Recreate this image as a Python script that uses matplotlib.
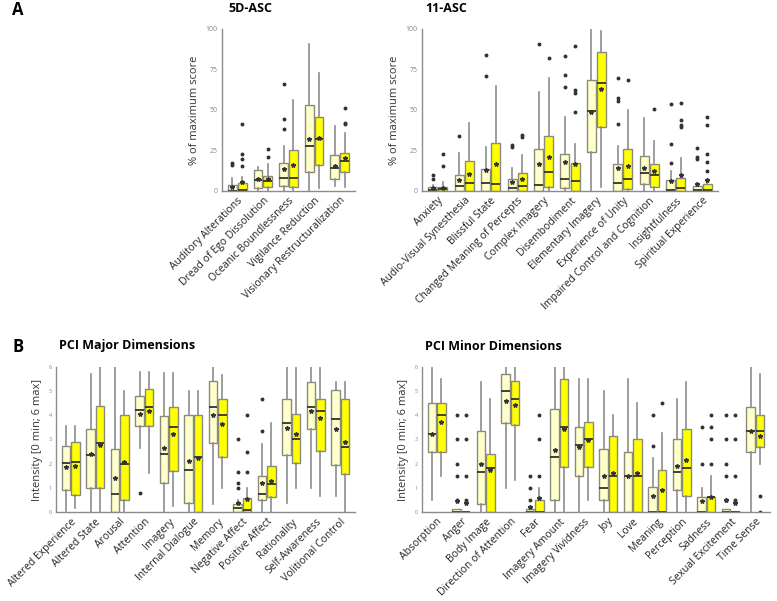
import matplotlib
matplotlib.use('Agg')
import matplotlib.pyplot as plt
import numpy as np

plt.rcParams['font.family'] = ['Open Sans', 'DejaVu Sans']

# each row: (whislo, q1, median, q3, whishi, mean)
asc5_labels = ['Auditory Alterations', 'Dread of Ego Dissolution', 'Oceanic Boundlessness',
               'Vigilance Reduction', 'Visionary Restructuralization']
asc5_pale = [(0, 0, 0, 3.7, 7.8, 2.7), (0, 1.6, 6.8, 12.8, 15, 7.4), (0, 3.3, 8, 17, 27.8, 13.6),
             (0, 11.5, 27.6, 52.9, 90.5, 32.3), (3.3, 7.6, 14, 22, 40.3, 15.6)]
asc5_pale_fliers = [[17, 16], [], [66, 44.4, 38.3], [], []]
asc5_yellow = [(0, 0, 0.6, 4.7, 8.6, 5.3), (0, 2.3, 6, 9, 16.5, 7.4), (0, 2.3, 7.8, 25, 56, 15.8),
               (1.6, 16.3, 31.9, 45.9, 72.8, 32.7), (2.7, 12, 18.7, 23.7, 35.6, 20.6)]
asc5_yellow_fliers = [[41.6, 23, 19.8, 15.6], [25.7, 21], [], [], [51.2, 42.2, 41.4]]

asc11_labels = ['Anxiety', 'Audio-Visual Synesthesia', 'Blissful State', 'Changed Meaning of Percepts',
                'Complex Imagery', 'Disembodiment', 'Elementary Imagery', 'Experience of Unity',
                'Impaired Control and Cognition', 'Insightfulness', 'Spiritual Experience']
asc11_pale = [(0, 0, 0.6, 2.3, 4, 1.6), (0, 0, 3, 9.9, 23.7, 6.6), (0, 0, 4.9, 13.4, 27, 12.8),
              (0, 0, 1.6, 7.6, 14.2, 5.6), (0, 0, 3.5, 26.1, 61, 16.9), (0, 2.1, 7.2, 22.8, 45.5, 18.1),
              (0, 23.9, 49.6, 68.3, 100, 48.6), (0, 0, 4.7, 16.5, 27.8, 14.4), (0, 4.1, 11.1, 21.4, 44.9, 14),
              (0, 0, 0.4, 7, 12.1, 6), (0, 0, 0.8, 3.3, 4.7, 4.1)]
asc11_pale_fliers = [[7.2, 9.9], [34], [71.2, 84.2], [28.4, 27.4], [90.5], [83.1, 71.4, 64.2], [],
                     [69.8, 57.2, 55.6, 41.4], [], [53.5, 28.8, 17.1], [26.3, 20.8, 19.8]]
asc11_yellow = [(0, 0, 1, 2.7, 5.3, 2), (0, 0, 4.7, 18.5, 41.8, 10.3), (0, 0, 4.3, 29.4, 64.6, 16.7),
                (0, 0, 2.9, 11.1, 22, 7.6), (0, 2.3, 11.5, 34.2, 69.5, 21), (0, 0, 6.2, 17.5, 29.2, 16.7),
                (2.7, 39.3, 66.5, 86, 99, 63.2), (0, 1, 7.2, 25.7, 50.2, 15.6), (0, 2.7, 9.7, 16.5, 31.1, 12.3),
                (0, 0, 1.6, 8.2, 20.6, 9.7), (0, 0, 0.4, 4.1, 5, 6.6)]
asc11_yellow_fliers = [[15.2, 22.6], [], [], [34.4, 33.3], [82.1], [89.7, 62.6, 60.5, 48.8], [],
                       [68.3], [50.8], [54.5, 43.8, 40.7, 39.7], [45.9, 40.5, 22.6, 18.1, 12.1, 6.6]]

major_labels = ['Altered Experience', 'Altered State', 'Arousal', 'Attention', 'Imagery',
                'Internal Dialogue', 'Memory', 'Negative Affect', 'Positive Affect', 'Rationality',
                'Self-Awareness', 'Volitional Control']
major_pale = [(0.07, 0.9, 2.04, 2.72, 3.54, 1.88), (0, 0.99, 2.35, 3.42, 5.68, 2.41),
              (0, 0, 0.74, 2.62, 6, 1.4), (2.63, 3.56, 4.2, 4.8, 5.8, 4.05),
              (0, 1.19, 2.4, 3.95, 5.75, 2.63), (0, 0.38, 1.76, 4.0, 5.0, 2.1),
              (0.34, 2.84, 4.33, 5.43, 6, 4.02), (0, 0, 0.16, 0.33, 0.5, 0.38),
              (0, 0.51, 0.75, 1.51, 2.83, 1.21), (0.37, 2.35, 3.68, 4.68, 6, 3.47),
              (0.99, 3.42, 4.33, 5.36, 6, 4.17), (0.69, 1.93, 3.83, 5.02, 5.36, 3.44)]
major_pale_fliers = [[], [], [], [0.81], [], [], [], [3.0, 1.66, 1.19, 0.99], [3.33, 4.68], [], [], []]
major_yellow = [(0.16, 0.73, 2.08, 2.9, 3.54, 1.9), (0, 0.99, 2.84, 4.4, 6, 2.76),
                (0, 0.51, 2.0, 4.0, 5.0, 2.06), (1.6, 3.56, 4.32, 5.07, 5.8, 4.17),
                (0.25, 1.7, 3.5, 4.32, 5.75, 3.22), (0, 0, 2.26, 4.0, 5.0, 2.22),
                (0.99, 2.26, 4.0, 4.66, 5.65, 3.62), (0, 0, 0.1, 0.59, 0.99, 0.55),
                (0, 0.63, 1.18, 1.92, 3.68, 1.28), (0.99, 2.02, 3.02, 4.07, 6, 3.21),
                (0.69, 2.54, 4.17, 4.66, 6, 3.9), (0, 1.59, 2.69, 4.66, 5.36, 2.89)]
major_yellow_fliers = [[], [], [], [], [], [], [], [4.0, 2.5, 1.66], [], [], [], []]

minor_labels = ['Absorption', 'Anger', 'Body Image', 'Direction of Attention', 'Fear', 'Imagery Amount',
                'Imagery Vividness', 'Joy', 'Love', 'Meaning', 'Perception', 'Sadness',
                'Sexual Excitement', 'Time Sense']
minor_pale = [(0.5, 2.5, 3.24, 4.51, 6, 3.24), (0, 0, 0, 0.12, 0.12, 0.45), (0, 0.33, 1.66, 3.35, 5.35, 1.99),
              (1.0, 3.66, 5.0, 5.69, 6, 4.6), (0, 0, 0, 0.12, 0.12, 0.2), (0, 0.49, 2.26, 4.25, 6, 2.56),
              (0, 1.5, 2.76, 3.5, 5.5, 2.67), (0, 0.49, 1.0, 2.62, 5.0, 1.51), (0, 0, 1.51, 2.5, 5.5, 1.51),
              (0, 0, 0, 1.06, 2.25, 0.67), (0, 0.9, 1.66, 3.0, 4.66, 1.91), (0, 0, 0, 0.62, 0.99, 0.47),
              (0, 0, 0, 0.12, 0.12, 0.5), (0, 2.5, 3.35, 4.33, 6, 3.35)]
minor_pale_fliers = [[], [4, 3, 2, 1.5, 0.5], [], [], [1.5, 1.0, 0.5], [], [], [], [],
                     [2.75, 4.0], [], [3.5, 2.0], [4, 3, 2, 1.5, 0.5], []]
minor_yellow = [(1.5, 2.5, 4.0, 4.51, 5.5, 3.74), (0, 0, 0, 0, 0, 0.38), (0, 0, 1.84, 2.41, 4.66, 1.74),
                (1.33, 3.58, 4.68, 5.43, 6, 4.43), (0, 0, 0, 0.49, 0.99, 0.6), (0, 1.87, 3.5, 5.5, 6, 3.44),
                (0.49, 1.87, 3.02, 3.74, 5.5, 2.98), (0, 0, 1.51, 3.13, 4.0, 1.63), (0, 0, 1.5, 3.0, 4.5, 1.63),
                (0, 0, 0, 1.74, 3.25, 0.92), (0, 0.66, 1.84, 3.43, 5.35, 2.15), (0, 0, 0.62, 0.62, 1.5, 0.64),
                (0, 0, 0, 0, 0, 0.38), (2.0, 2.69, 3.33, 4.0, 5.69, 3.15)]
minor_yellow_fliers = [[], [4, 3, 1.5, 0.52, 0.41], [], [], [4, 3, 1.5], [], [], [], [],
                       [4.5], [], [4, 3.5, 3, 2], [4, 3, 1.5, 0.52, 0.41], [0.69, 0]]

PALE = '#ffffcc'
YELLOW = '#ffff00'


def to_stats(rows, fliers):
    out = []
    for (lo, q1, med, q3, hi, mean), fl in zip(rows, fliers):
        out.append(dict(whislo=lo, q1=q1, med=med, q3=q3, whishi=hi, mean=mean, fliers=fl))
    return out


def draw_panel(ax, labels, pale, pale_fl, yellow, yellow_fl, ymax, yticks, ylabel, tick_fs):
    n = len(labels)
    pos = np.arange(n)
    for stats, fc, off in [(to_stats(pale, pale_fl), PALE, -0.19), (to_stats(yellow, yellow_fl), YELLOW, 0.19)]:
        ax.bxp(stats, positions=pos + off, widths=0.34, patch_artist=True, showmeans=True,
               showcaps=False, manage_ticks=False,
               boxprops=dict(facecolor=fc, edgecolor='#8a8a7a', linewidth=1.0),
               whiskerprops=dict(color='#8c8c8c', linewidth=1.2),
               medianprops=dict(color='#333326', linewidth=1.3),
               meanprops=dict(marker='*', markerfacecolor='#333333', markeredgecolor='#333333', markersize=3.2),
               flierprops=dict(marker='o', markerfacecolor='#333333', markeredgecolor='#333333', markersize=1.8))
    ax.set_xlim(-0.6, n - 0.4)
    ax.set_ylim(0, ymax)
    ax.set_yticks(yticks)
    ax.set_xticks(pos)
    ax.set_xticklabels(labels, rotation=45, ha='right', rotation_mode='anchor', fontsize=7.5, color='#222222')
    ax.tick_params(axis='x', length=0, pad=3)
    ax.tick_params(axis='y', length=0, labelsize=tick_fs, labelcolor='#888888', pad=3)
    ax.spines['top'].set_visible(False)
    ax.spines['right'].set_visible(False)
    for s in ('left', 'bottom'):
        ax.spines[s].set_color('#8c8c8c')
        ax.spines[s].set_linewidth(1.0)
    ax.set_ylabel(ylabel, fontsize=8, color='#333333')


fig = plt.figure(figsize=(7.77, 6.01), dpi=100)

ax1 = fig.add_axes([0.2857, 0.6822, 0.1712, 0.2696])
ax2 = fig.add_axes([0.5431, 0.6822, 0.3810, 0.2696])
ax3 = fig.add_axes([0.0721, 0.1476, 0.3848, 0.2423])
ax4 = fig.add_axes([0.5431, 0.1476, 0.4479, 0.2423])

draw_panel(ax1, asc5_labels, asc5_pale, asc5_pale_fliers, asc5_yellow, asc5_yellow_fliers,
           100, [0, 25, 50, 75, 100], '% of maximum score', 5)
draw_panel(ax2, asc11_labels, asc11_pale, asc11_pale_fliers, asc11_yellow, asc11_yellow_fliers,
           100, [0, 25, 50, 75, 100], '% of maximum score', 5)
draw_panel(ax3, major_labels, major_pale, major_pale_fliers, major_yellow, major_yellow_fliers,
           6, range(7), 'Intensity [0 min; 6 max]', 4)
draw_panel(ax4, minor_labels, minor_pale, minor_pale_fliers, minor_yellow, minor_yellow_fliers,
           6, range(7), 'Intensity [0 min; 6 max]', 4)

fig.text(18 / 777, 1 - 10 / 601, 'A', fontsize=12, fontweight='bold', ha='center', va='center')
fig.text(18 / 777, 1 - 347 / 601, 'B', fontsize=12, fontweight='bold', ha='center', va='center')
fig.text(250 / 777, 1 - 9 / 601, '5D-ASC', fontsize=9, fontweight='bold', ha='center', va='center')
fig.text(425 / 777, 1 - 9 / 601, '11-ASC', fontsize=9, fontweight='bold', ha='left', va='center')
fig.text(59 / 777, 1 - 346 / 601, 'PCI Major Dimensions', fontsize=9, fontweight='bold', ha='left', va='center')
fig.text(425 / 777, 1 - 346 / 601, 'PCI Minor Dimensions', fontsize=9, fontweight='bold', ha='left', va='center')

fig.savefig('out.png', dpi=100)
